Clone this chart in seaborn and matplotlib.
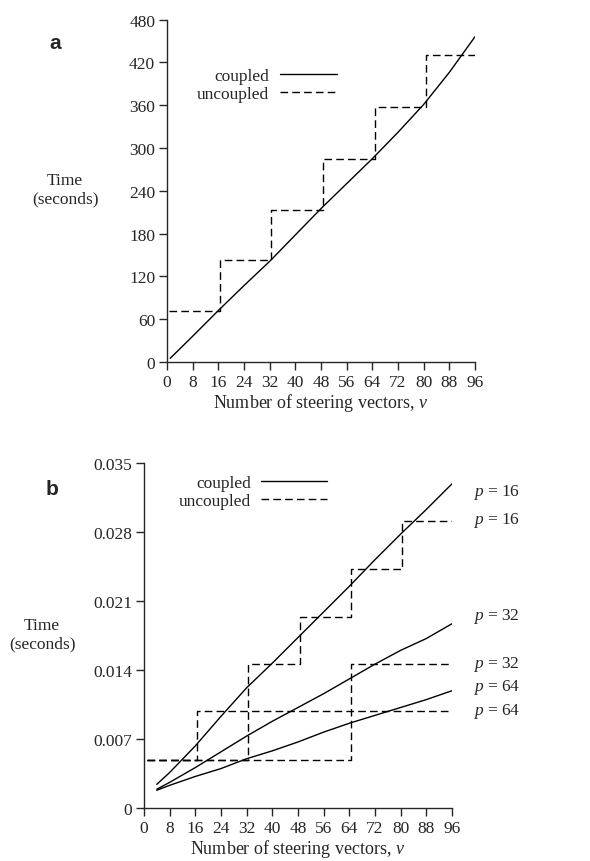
import numpy as np
import matplotlib
matplotlib.use("Agg")
import matplotlib.pyplot as plt
import seaborn as sns

# ---- panel a data ----
v_a = [1, 8, 16, 24, 32, 40, 48, 56, 64, 72, 80, 88, 96]
coupled_a = [5, 36, 72, 107, 141, 178, 215, 250, 285, 322, 361, 406, 456]
step_v_a = [0.5, 16.5, 32.5, 48.6, 64.8, 80.8, 96]
uncoupled_a = [72, 143, 213, 284, 357, 430, 430]

# ---- panel b data ----
v_b = [4, 8, 16, 24, 32, 40, 48, 56, 64, 72, 80, 88, 96]
coupled_b = {
    16: [0.0024, 0.0036, 0.0063, 0.0093, 0.0122, 0.0147, 0.0173, 0.0199, 0.0225, 0.0252, 0.0278, 0.0303, 0.0329],
    32: [0.0019, 0.0026, 0.0041, 0.0057, 0.0073, 0.0088, 0.0102, 0.0116, 0.0131, 0.0146, 0.0160, 0.0172, 0.0187],
    64: [0.0018, 0.0023, 0.0032, 0.0040, 0.0050, 0.0058, 0.0067, 0.0077, 0.0086, 0.0094, 0.0102, 0.0110, 0.0119],
}
step_v_b = {
    16: [1, 16.5, 32.5, 48.5, 64.5, 80.5, 96],
    32: [1, 32.5, 64.5, 96],
    64: [1, 64.5, 96],
}
uncoupled_b = {
    16: [0.0049, 0.0098, 0.0146, 0.0194, 0.0243, 0.0291, 0.0291],
    32: [0.0049, 0.0098, 0.0146, 0.0146],
    64: [0.0049, 0.0098, 0.0098],
}
# right-hand labels: (text, y position in data units)
p_labels = [("16", 0.0321), ("16", 0.0293), ("32", 0.0195),
            ("32", 0.0147), ("64", 0.0123), ("64", 0.0099)]

x_ticks = list(range(0, 97, 8))

sns.set_style("ticks")
plt.rcParams["font.family"] = ["Liberation Serif", "DejaVu Serif"]
plt.rcParams["mathtext.fontset"] = "custom"
plt.rcParams["mathtext.it"] = "Liberation Serif:italic"
plt.rcParams["mathtext.rm"] = "Liberation Serif"
fs = 12.5

fig = plt.figure(figsize=(5.9, 8.62), dpi=100)
ax_a = fig.add_axes([0.283, 0.579, 0.522, 0.397])
ax_b = fig.add_axes([0.244, 0.0615, 0.522, 0.400])

solid = dict(color="black", lw=1.0)
dashed = dict(color="black", lw=1.0, linestyle=(0, (5.5, 3)))

# panel a
sns.lineplot(x=v_a, y=coupled_a, ax=ax_a, label="coupled", estimator=None, sort=False, **solid)
sns.lineplot(x=step_v_a, y=uncoupled_a, ax=ax_a, label="uncoupled", estimator=None,
             sort=False, drawstyle="steps-post", **dashed)
ax_a.set_xlim(0, 96)
ax_a.set_ylim(0, 480)
ax_a.set_yticks(range(0, 481, 60))

# panel b
for i, p in enumerate([16, 32, 64]):
    sns.lineplot(x=v_b, y=coupled_b[p], ax=ax_b, estimator=None, sort=False,
                 label="coupled" if i == 0 else None, **solid)
for i, p in enumerate([16, 32, 64]):
    sns.lineplot(x=step_v_b[p], y=uncoupled_b[p], ax=ax_b, estimator=None, sort=False,
                 drawstyle="steps-post", label="uncoupled" if i == 0 else None, **dashed)
ax_b.set_xlim(0, 96)
ax_b.set_ylim(0, 0.035)
ax_b.set_yticks([0, 0.007, 0.014, 0.021, 0.028, 0.035])
ax_b.set_yticklabels(["0", "0.007", "0.014", "0.021", "0.028", "0.035"])

for txt, y in p_labels:
    ax_b.text(102.5, y, "$p$ = " + txt, ha="left", va="center", fontsize=fs, clip_on=False)

for ax in (ax_a, ax_b):
    ax.set_xticks(x_ticks)
    sns.despine(ax=ax)
    ax.spines["left"].set_linewidth(1.0)
    ax.spines["bottom"].set_linewidth(1.0)
    ax.tick_params(direction="out", length=6, width=1.0, labelsize=fs, pad=2.5)
    ax.set_xlabel("Number of steering vectors, $v$", fontsize=fs + 0.5, labelpad=1)
    ax.set_ylabel("Time\n(seconds)", rotation=0, ha="center", va="center", fontsize=fs)
    ax.yaxis.set_label_coords(-0.331, 0.505)
    ax.margins(0)

ax_a.legend(loc="upper left", bbox_to_anchor=(0.07, 0.885), frameon=False, markerfirst=False,
            handlelength=3.3, handletextpad=0.6, labelspacing=0.1, borderpad=0, fontsize=fs)
ax_b.legend(loc="upper left", bbox_to_anchor=(0.085, 0.99), frameon=False, markerfirst=False,
            handlelength=3.8, handletextpad=0.6, labelspacing=0.1, borderpad=0, fontsize=fs)

fig.text(0.093, 0.95, "a", fontsize=15, fontweight="bold", family="Liberation Sans",
         ha="center", va="center")
fig.text(0.088, 0.432, "b", fontsize=15, fontweight="bold", family="Liberation Sans",
         ha="center", va="center")

fig.savefig("out.png", dpi=100)
